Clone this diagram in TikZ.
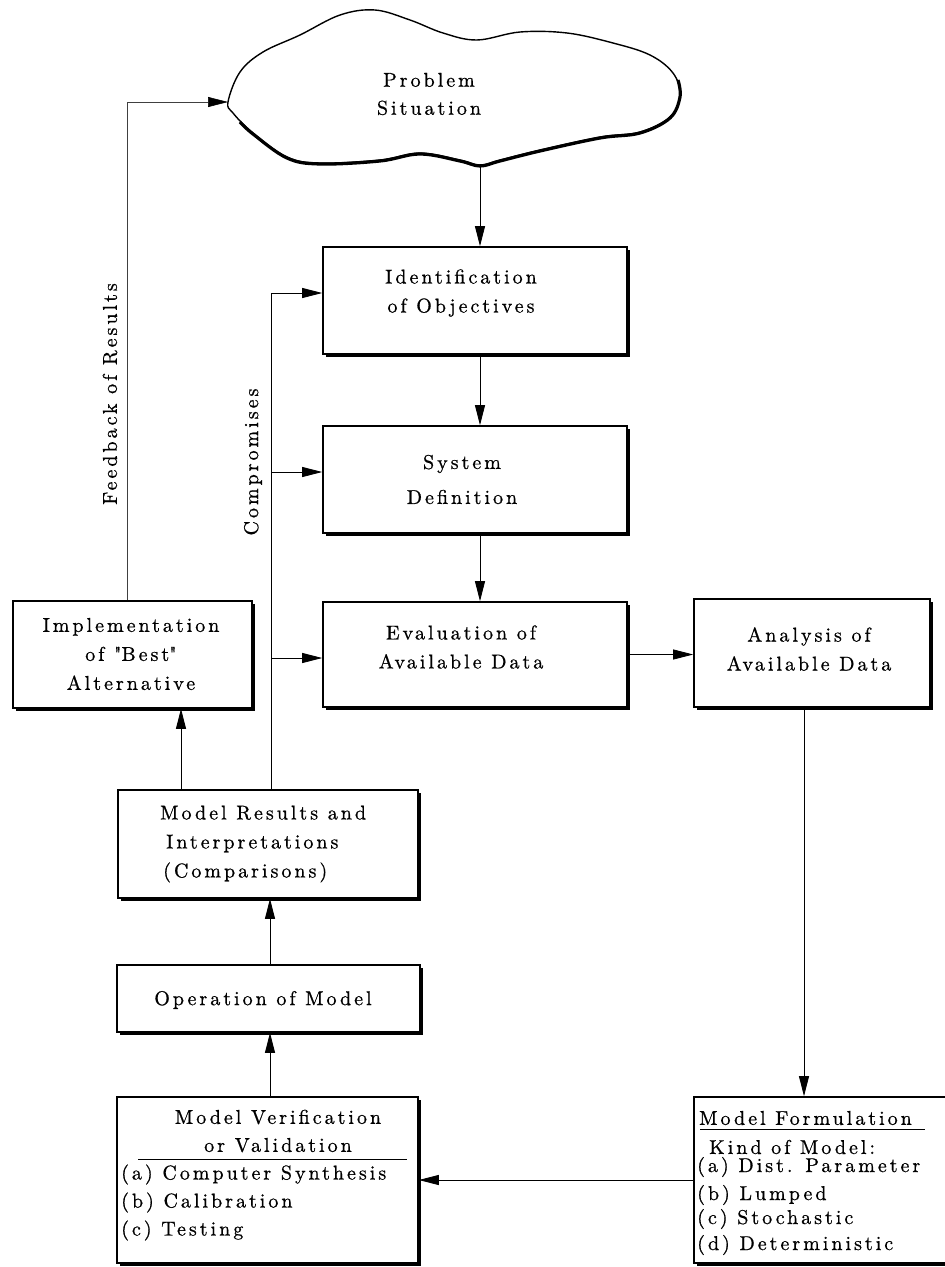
\documentclass[tikz,border=0pt]{standalone}
\usepackage{fontspec}
\setmainfont{lmroman10-regular.otf}[LetterSpace=15, FakeBold=0.7]
\usetikzlibrary{arrows.meta,shadows,calc}
\tikzset{
  box/.style={draw, line width=1.6pt, fill=white, inner sep=0pt,
    drop shadow={shadow xshift=2.5pt, shadow yshift=-2.5pt, opacity=1, fill=black}},
  txt/.style={font=\fontsize{20}{29}\selectfont, align=center, inner sep=0pt},
  ltxt/.style={font=\fontsize{20}{28}\selectfont, align=left, inner sep=0pt, anchor=west},
  ln/.style={line width=0.8pt},
  arr/.style={line width=0.8pt, -{Triangle[length=20pt,width=10pt,color=black]}},
}
\begin{document}
\begin{tikzpicture}[x=1pt,y=-1pt]
\useasboundingbox (0,0) rectangle (945,1267);
% cloud
\draw[line width=1.4pt, fill=white] plot[smooth cycle, tension=0.6] coordinates {
 (228,102) (240,72) (263,52) (300,35) (340,15) (375,10) (410,20) (443,33) (477,40)
 (520,32) (567,33) (613,43) (650,55) (673,73) (680,95) (670,117) (640,132) (600,137)
 (540,150) (500,160) (480,165) (460,160) (420,153) (380,160) (320,163) (287,157)
 (253,133) (233,113)};
\draw[line width=3.2pt] plot[smooth, tension=0.6] coordinates {
 (240,122) (253,134) (287,158) (320,164) (380,161) (420,154) (460,161) (480,166) (500,161)
 (540,151) (600,138) (640,133) (670,118) (680,97) (678,80)};
\coordinate (cloudL) at (228,102);
\coordinate (cloudB) at (480,164);
\node[txt, font=\fontsize{20}{28}\selectfont] (prob) at (429,94) {Problem\\Situation};

% boxes
\node[box, minimum width=304pt, minimum height=107pt] (ident) at (475,300.5) {};
\node[txt] (identT) at (461,293) {Identification\\of Objectives};
\node[box, minimum width=304pt, minimum height=107pt] (sysdef) at (475,479.5) {};
\node[txt, font=\fontsize{20}{35}\selectfont] (sysdefT) at (462,479.5) {System\\Definition};
\node[box, minimum width=304pt, minimum height=105pt] (eval) at (475,654.5) {};
\node[txt] (evalT) at (461,647) {Evaluation of\\Available Data};
\node[box, minimum width=236pt, minimum height=108pt] (anal) at (812,653) {};
\node[txt] (analT) at (809,649) {Analysis of\\Available Data};
\node[box, minimum width=239pt, minimum height=107pt] (impl) at (132.5,654.5) {};
\node[txt] (implT) at (131,654) {Implementation\\of \textquotedbl Best\textquotedbl\\Alternative};
\node[box, minimum width=300pt, minimum height=108pt] (res) at (268,844) {};
\node[ltxt, font=\fontsize{20}{29}\selectfont] (resT) at (160,844) {Model Results and\\\hspace*{6pt}Interpretations\\\hspace*{3pt}(Comparisons)};
\node[box, minimum width=303pt, minimum height=67pt] (oper) at (268.5,998.5) {};
\node[txt] (operT) at (263,1000) {Operation of Model};
\node[box, minimum width=301pt, minimum height=166pt] (verif) at (267.5,1180) {};
\node[txt, font=\fontsize{20}{28}\selectfont] (verifT) at (278,1131) {Model Verification\\or Validation};
\draw[ln] (138,1159) -- (407,1159);
\node[ltxt] (verifL) at (121,1202.5) {(a) Computer Synthesis\\(b) Calibration\\(c) Testing};
\node[box, minimum width=266pt, minimum height=166pt] (form) at (827,1180) {};
\node[ltxt] (f1) at (699,1118) {Model Formulation};
\draw[ln] (700,1129) -- (925,1129);
\node[ltxt] (f2) at (709,1147) {Kind of Model:};
\node[ltxt] (f3) at (697,1167) {(a) Dist. Parameter};
\node[ltxt] (f4) at (697,1195) {(b) Lumped};
\node[ltxt] (f5) at (697,1219) {(c) Stochastic};
\node[ltxt] (f6) at (697,1245) {(d) Deterministic};

% labels
\node[txt, rotate=90] (fbL) at (110,394) {Feedback of Results};
\node[txt, rotate=90] (cpL) at (253,462) {Compromises};

% connectors
\draw[arr] (cloudB) -- (cloudB |- ident.north);
\draw[arr] (ident.south -| cloudB) -- (sysdef.north -| cloudB);
\draw[arr] (sysdef.south -| cloudB) -- (eval.north -| cloudB);
\draw[arr] (eval.east) -- (anal.west |- eval.east);
\coordinate (aS) at ($(anal.south)+(-8,0)$);
\draw[arr] (aS) -- (aS |- form.north);
\draw[arr] (form.west |- verif.east) -- (verif.east);
\coordinate (vN) at ($(verif.north)+(2.5,0)$);
\draw[arr] (vN) -- (vN |- oper.south);
\draw[arr] (oper.north -| vN) -- (res.south -| vN);
\coordinate (rN) at ($(res.north)+(-87,0)$);
\draw[arr] (rN) -- (rN |- impl.south);
\coordinate (cm) at ($(res.north)+(3,0)$);
\coordinate (c1) at ($(ident.west)+(0,-7.5)$);
\coordinate (c2) at ($(sysdef.west)+(0,-7.5)$);
\coordinate (c3) at ($(eval.west)+(0,3.5)$);
\draw[arr] (cm) |- (c1);
\draw[arr] (cm |- c2) -- (c2);
\draw[arr] (cm |- c3) -- (c3);
\coordinate (fb) at ($(impl.north)+(-5.5,0)$);
\draw[arr, line width=0.6pt, draw=black!75] (fb) |- (cloudL);
\end{tikzpicture}
\end{document}
